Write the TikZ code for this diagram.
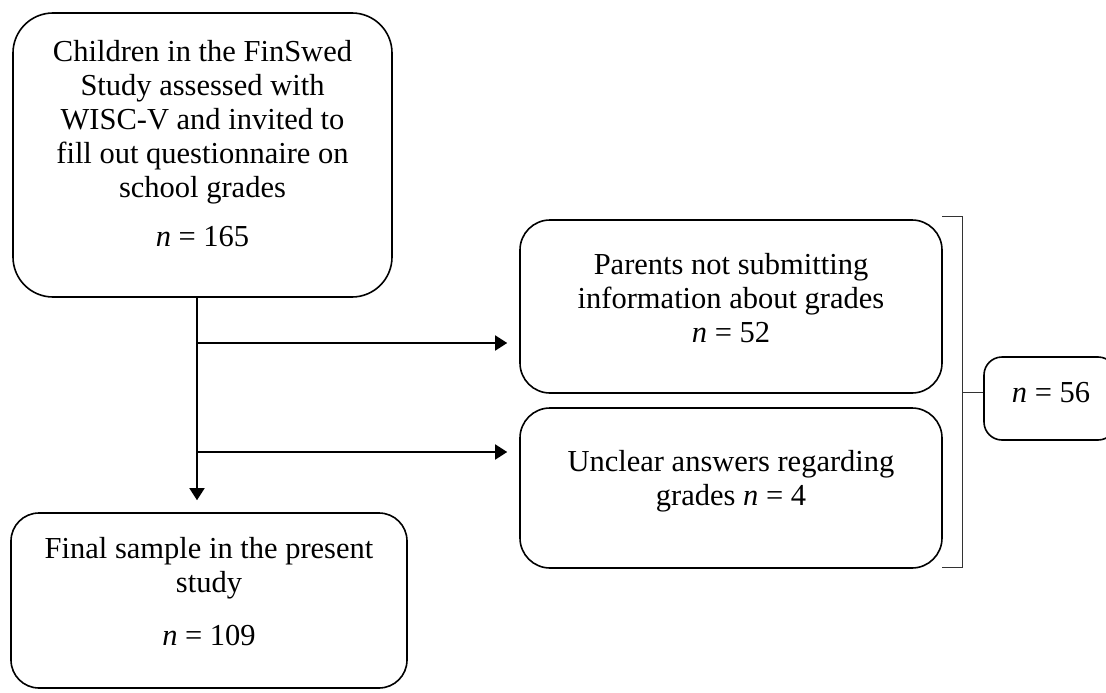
\documentclass[tikz,border=0pt]{standalone}
\usepackage{fontspec}
\setmainfont{Liberation Serif}
\usetikzlibrary{positioning}
\usetikzlibrary{arrows.meta}

\tikzset{
  box/.style={draw, line width=1.6pt, inner sep=0pt},
  txt/.style={align=center, inner sep=0pt, font=\fontsize{30.5}{34}\selectfont},
  arr/.style={line width=1.6pt, -{Triangle[length=12pt,width=15pt]}, shorten >=12pt},
  brace/.style={line width=1pt, draw=black!80}
}

\begin{document}
\begin{tikzpicture}[x=1pt,y=-1pt]
  \useasboundingbox (0,0) rectangle (1106,693);

  \node[box, rounded corners=40pt, minimum width=379pt, minimum height=284pt,
    label={[txt, yshift=11pt]center:Children in the FinSwed\\ Study assessed with\\ WISC-V and invited to\\ fill out questionnaire on\\ school grades\\[15pt] \textit{n} = 165}]
    (study) at (202.5,155) {};
  \node[box, rounded corners=30pt, minimum width=422pt, minimum height=173pt,
    label={[txt, yshift=8pt]center:Parents not submitting\\ information about grades\\ \textit{n} = 52}]
    (nograde) at (731,306.5) {};
  \node[box, rounded corners=30pt, minimum width=422pt, minimum height=160pt,
    label={[txt, yshift=7pt]center:Unclear answers regarding\\ grades \textit{n} = 4}]
    (unclear) at (731,488) {};
  \node[box, rounded corners=28pt, minimum width=396pt, minimum height=175pt,
    label={[txt, yshift=9pt]center:Final sample in the present\\ study\\[19pt] \textit{n} = 109}]
    (final) at (209,600.5) {};
  \node[box, rounded corners=18pt, minimum width=132pt, minimum height=83pt,
    label={[txt, yshift=6pt, xshift=1pt]center:\textit{n} = 56}]
    (excl) at (1050,398.5) {};

  % flow from the study sample
  \coordinate (trunk) at (197,297);
  \coordinate (fork1) at (197,343);
  \coordinate (fork2) at (197,452);
  \draw[arr] (trunk) -- (trunk |- final.north);
  \draw[arr] (fork1) -- (fork1 -| nograde.west);
  \draw[arr] (fork2) -- (fork2 -| unclear.west);

  % bracket round the two exclusions
  \coordinate (brk) at (962,392);
  \draw[brace] (942,216) -| (962,567) -- (942,567);
  \draw[brace] (brk) -- (brk -| excl.west);
\end{tikzpicture}
\end{document}
